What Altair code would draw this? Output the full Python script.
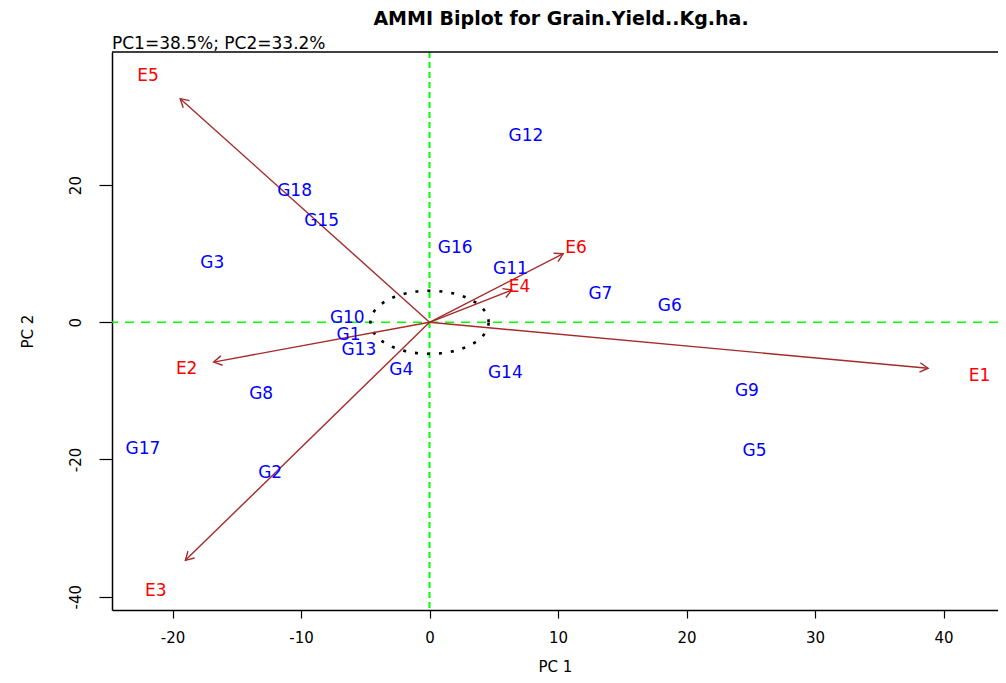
import math
import altair as alt
import numpy as np
import pandas as pd

chart_title = "AMMI Biplot for Grain.Yield..Kg.ha."
variance_note = "PC1=38.5%; PC2=33.2%"

genotypes = ["G1", "G2", "G3", "G4", "G5", "G6", "G7", "G8", "G9",
             "G10", "G11", "G12", "G13", "G14", "G15", "G16", "G17", "G18"]
gen_pc1 = [-6.3, -12.4, -16.9, -2.2, 25.3, 18.7, 13.3, -13.1, 24.7,
           -6.4, 6.3, 7.5, -5.5, 5.9, -8.4, 2.0, -22.3, -10.5]
gen_pc2 = [-1.9, -22.0, 8.7, -6.9, -18.7, 2.4, 4.1, -10.5, -10.0,
           0.6, 7.8, 27.2, -4.1, -7.4, 14.7, 10.9, -18.5, 19.1]

environments = ["E1", "E2", "E3", "E4", "E5", "E6"]
env_pc1 = [38.8, -16.8, -19.0, 6.4, -19.4, 10.4]
env_pc2 = [-6.7, -5.8, -34.7, 4.7, 32.6, 10.0]
env_label_pc1 = [42.8, -18.9, -21.3, 7.0, -21.9, 11.4]
env_label_pc2 = [-7.9, -6.8, -39.2, 5.1, 35.9, 10.9]

x_ticks = [-20, -10, 0, 10, 20, 30, 40]
y_ticks = [-40, -20, 0, 20]
x_domain = [-24.71, 44.24]
y_domain = [-41.94, 39.40]
circle_radius = 4.6

W, H = 886, 558
FONT = "DejaVu Sans"
HYPHEN_EXPR = "replace(datum.label, '\u2212', '-')"

kx = W / (x_domain[1] - x_domain[0])
ky = H / (y_domain[1] - y_domain[0])

gen_df = pd.DataFrame({"name": genotypes, "pc1": gen_pc1, "pc2": gen_pc2})
arrow_df = pd.DataFrame({
    "name": environments,
    "pc1": env_pc1,
    "pc2": env_pc2,
    "angle": [(math.degrees(math.atan2(a * kx, b * ky)) + 360) % 360
              for a, b in zip(env_pc1, env_pc2)],
})
env_lab_df = pd.DataFrame({"name": environments, "pc1": env_label_pc1, "pc2": env_label_pc2})

t = np.linspace(0, 2 * np.pi, 121)
circle_df = pd.DataFrame({"pc1": circle_radius * np.cos(t),
                          "pc2": circle_radius * np.sin(t),
                          "idx": np.arange(len(t))})
one = pd.DataFrame({"note": [variance_note], "title": [chart_title]})

X = alt.X("pc1:Q",
          scale=alt.Scale(domain=x_domain, nice=False, zero=False),
          axis=alt.Axis(values=x_ticks, title="PC 1", grid=False,
                        tickSize=8, tickColor="black", tickWidth=1.2,
                        domainColor="black", domainWidth=1.5,
                        labelFont=FONT, labelFontSize=15, labelColor="black",
                        labelPadding=12, labelFlush=False, labelExpr=HYPHEN_EXPR,
                        titleFont=FONT, titleFontSize=15, titleFontWeight="normal",
                        titleColor="black", titleBaseline="alphabetic",
                        titleY=61))
Y = alt.Y("pc2:Q",
          scale=alt.Scale(domain=y_domain, nice=False, zero=False),
          axis=alt.Axis(values=y_ticks, title="PC 2", grid=False,
                        tickSize=13, tickColor="black", tickWidth=1.2,
                        domainColor="black", domainWidth=1.5,
                        labelFont=FONT, labelFontSize=15, labelColor="black",
                        labelAngle=270, labelAlign="center", labelBaseline="alphabetic",
                        labelPadding=19, labelFlush=False, labelExpr=HYPHEN_EXPR,
                        titleFont=FONT, titleFontSize=15, titleFontWeight="normal",
                        titleColor="black", titleAngle=270, titleAlign="center",
                        titleBaseline="alphabetic", titleX=-80, titleY=H / 2))

zero_v = alt.Chart(one).mark_rule(color="#00FF00", strokeWidth=2, strokeDash=[6, 4]).encode(
    x=alt.datum(0))
zero_h = alt.Chart(one).mark_rule(color="#00FF00", strokeWidth=1.6, strokeDash=[9, 7]).encode(
    y=alt.datum(0))

circle = alt.Chart(circle_df).mark_line(color="black", strokeWidth=2.6, strokeDash=[3, 9]).encode(
    x=X, y=Y, order="idx:Q")

arrows = alt.Chart(arrow_df).mark_rule(color="#A52A2A", strokeWidth=1.4).encode(
    x=X, y=Y, x2=alt.datum(0), y2=alt.datum(0))
heads = alt.Chart(arrow_df).mark_point(
    shape="M-0.55,0.95L0,0L0.55,0.95", filled=False, size=300,
    color="#A52A2A", strokeWidth=1.4, opacity=1).encode(
    x=X, y=Y, angle=alt.Angle("angle:Q", scale=None))

gen_text = alt.Chart(gen_df).mark_text(font=FONT, fontSize=17, color="#0000FF",
                                       align="center", baseline="middle").encode(
    x=X, y=Y, text="name:N")
env_text = alt.Chart(env_lab_df).mark_text(font=FONT, fontSize=17, color="#FF0000",
                                           align="center", baseline="middle").encode(
    x=X, y=Y, text="name:N")

top_border = alt.Chart(one).mark_rule(color="black", strokeWidth=1.5).encode(
    x=alt.value(0), x2=alt.value(W), y=alt.value(0))
note = alt.Chart(one).mark_text(font=FONT, fontSize=17, color="black",
                                align="left", baseline="alphabetic").encode(
    x=alt.value(0), y=alt.value(-3), text="note:N")
title = alt.Chart(one).mark_text(font=FONT, fontSize=19, fontWeight="bold", color="black",
                                 align="center", baseline="alphabetic").encode(
    x=alt.value(449), y=alt.value(-27), text="title:N")

chart = alt.layer(
    zero_v, zero_h, circle, arrows, heads, gen_text, env_text, top_border, note, title
).properties(
    width=W, height=H,
    padding={"left": 104, "top": 44, "right": 0, "bottom": 65},
    autosize=alt.AutoSizeParams(type="none"),
).configure_view(strokeWidth=0)

chart.save("out.html", embed_options={"renderer": "svg", "actions": False})
